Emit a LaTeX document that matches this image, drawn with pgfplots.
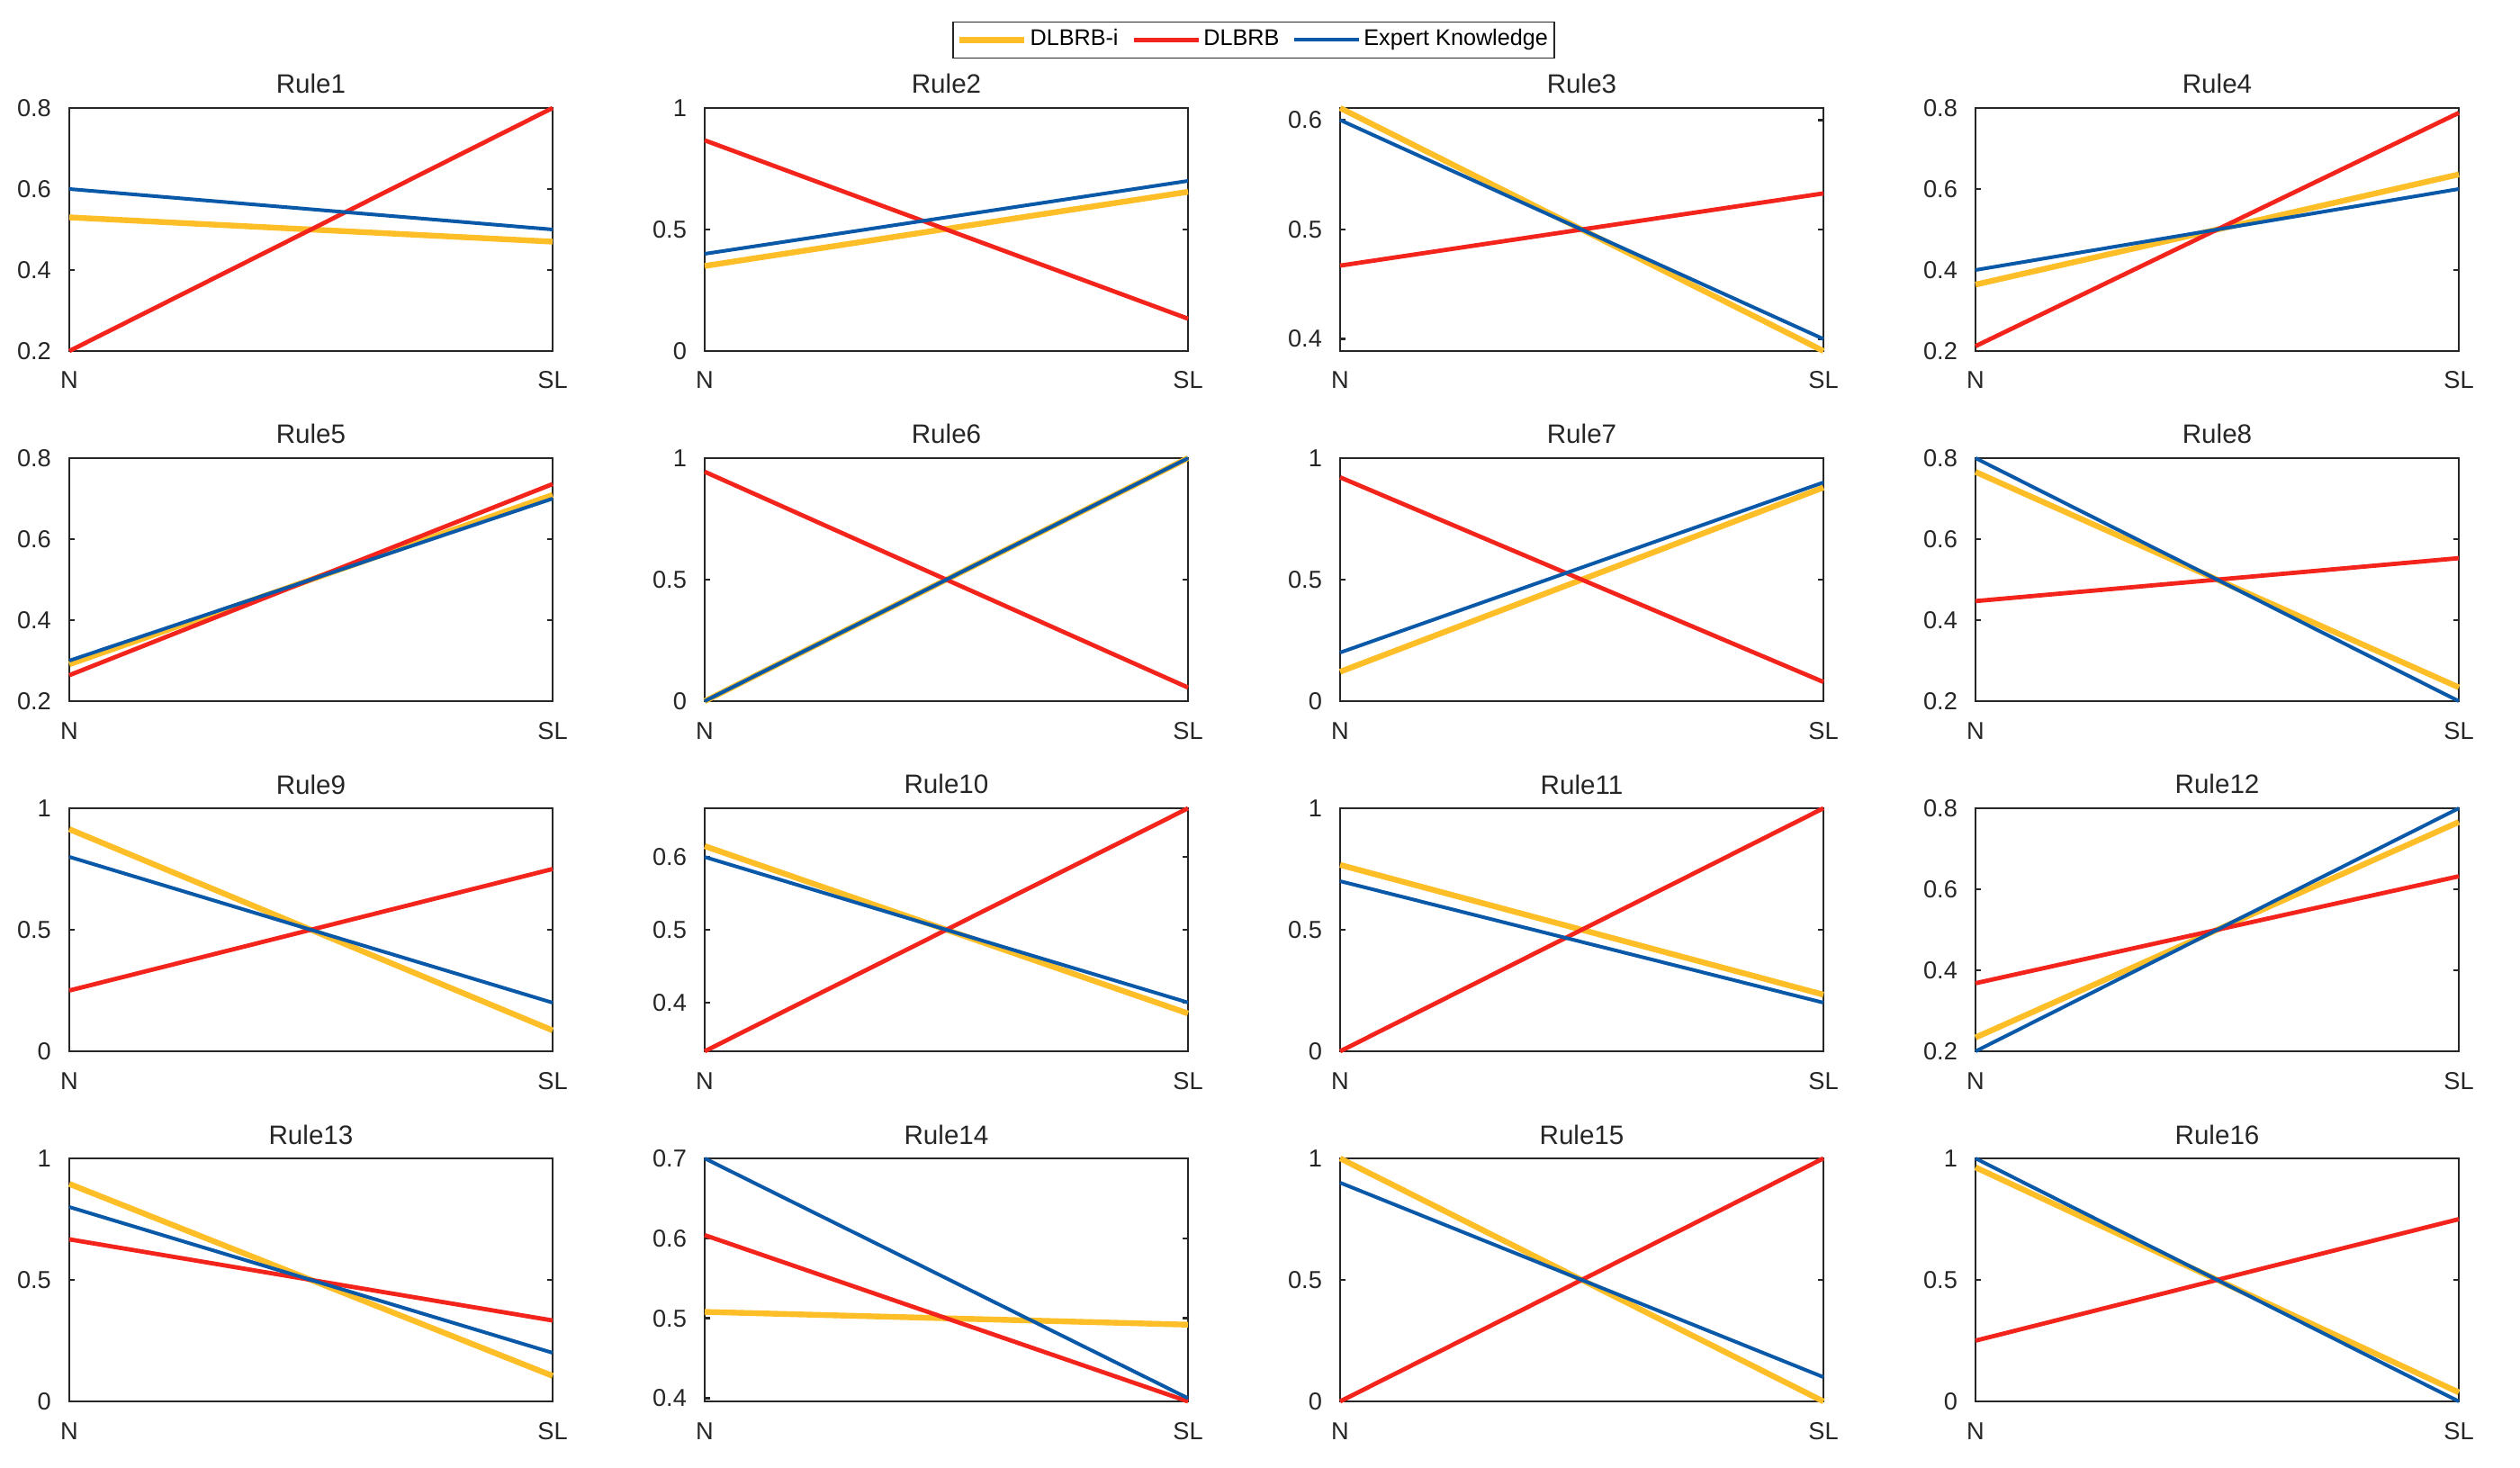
\documentclass[border=0pt]{standalone}
\usepackage{fontspec}
\setmainfont{Liberation Sans}
\usepackage{pgfplots}
\pgfplotsset{compat=1.18}
\definecolor{cY}{RGB}{253,190,40}
\definecolor{cR}{RGB}{242,36,28}
\definecolor{cB}{RGB}{10,88,168}
\definecolor{axc}{RGB}{38,38,38}

\pgfplotsset{
  rule/.style={
    anchor=south west,
    scale only axis,
    width=134.25pt, height=67.5pt,
    xmin=0, xmax=1, xtick={0,1}, xticklabels={N,SL},
    clip=false,
    axis line style={axc, line width=0.6pt},
    tick style={axc, line width=0.6pt},
    major tick length=1.4pt,
    tick align=inside,
    ticklabel style={font=\fontsize{6.8}{8}\selectfont, text=axc},
    /pgf/number format/assume math mode=true,
    xticklabel style={anchor=base, yshift=-10.5pt},
    yticklabel style={anchor=east, xshift=-1.5pt},
    title style={at={(0.5,1)}, anchor=base, yshift=-2pt, font=\fontsize{7.4}{9}\selectfont, text=axc},
  },
  ly/.style={cY, line width=1.6pt, mark=none},
  lr/.style={cR, line width=1.2pt, mark=none},
  lb/.style={cB, line width=1.0pt, mark=none},
}

% #1 x, #2 y, #3 ymin, #4 ymax, #5 yticks, #6 title, #7 yellow, #8 red, #9 blue
\newcommand{\rulepanel}[9]{%
  \begin{axis}[rule, at={(#1pt,#2pt)}, ymin=#3, ymax=#4, ytick={#5}, title={#6}]
    \addplot[ly] coordinates {#7};
    \addplot[lr] coordinates {#8};
    \addplot[lb] coordinates {#9};
  \end{axis}}

\begin{document}
\begin{tikzpicture}
\path (0,0) rectangle (700pt,407.5pt);

\begin{axis}[rule, at={(19.25pt,310pt)}, ymin=0.2, ymax=0.8, ytick={0.2,0.4,0.6,0.8}, title={Rule1},
  legend style={at={(2.4507,1.2796)}, anchor=center, legend columns=3, draw=axc, line width=0.4pt,
    font=\fontsize{6.3}{7.5}\selectfont, text=black, inner xsep=1pt, inner ysep=1pt,
    nodes={inner xsep=0.75pt, inner ysep=1pt},
    /tikz/every even column/.append style={column sep=3pt}},
  legend image code/.code={\draw[#1] (0pt,0pt) -- (18pt,0pt);}]
  \addplot[ly] coordinates {(0,0.53) (1,0.47)}; \addlegendentry{DLBRB-i}
  \addplot[lr] coordinates {(0,0.2) (1,0.8)}; \addlegendentry{DLBRB}
  \addplot[lb] coordinates {(0,0.6) (1,0.5)}; \addlegendentry{Expert Knowledge}
\end{axis}

\rulepanel{195.75}{310}{0}{1}{0,0.5,1}{Rule2}{(0,0.35) (1,0.655)}{(0,0.867) (1,0.133)}{(0,0.4) (1,0.7)}
\rulepanel{372.25}{310}{0.389}{0.611}{0.4,0.5,0.6}{Rule3}{(0,0.611) (1,0.389)}{(0,0.467) (1,0.533)}{(0,0.6) (1,0.4)}
\rulepanel{548.75}{310}{0.2}{0.8}{0.2,0.4,0.6,0.8}{Rule4}{(0,0.364) (1,0.636)}{(0,0.212) (1,0.788)}{(0,0.4) (1,0.6)}

\rulepanel{19.25}{212.75}{0.2}{0.8}{0.2,0.4,0.6,0.8}{Rule5}{(0,0.291) (1,0.709)}{(0,0.264) (1,0.736)}{(0,0.3) (1,0.7)}
\rulepanel{195.75}{212.75}{0}{1}{0,0.5,1}{Rule6}{(0,0) (1,1)}{(0,0.944) (1,0.056)}{(0,0) (1,1)}
\rulepanel{372.25}{212.75}{0}{1}{0,0.5,1}{Rule7}{(0,0.121) (1,0.879)}{(0,0.921) (1,0.079)}{(0,0.2) (1,0.9)}
\rulepanel{548.75}{212.75}{0.2}{0.8}{0.2,0.4,0.6,0.8}{Rule8}{(0,0.766) (1,0.234)}{(0,0.447) (1,0.553)}{(0,0.8) (1,0.2)}

\rulepanel{19.25}{115.5}{0}{1}{0,0.5,1}{Rule9}{(0,0.914) (1,0.086)}{(0,0.25) (1,0.75)}{(0,0.8) (1,0.2)}
\rulepanel{195.75}{115.5}{0.333}{0.667}{0.4,0.5,0.6}{Rule10}{(0,0.615) (1,0.385)}{(0,0.333) (1,0.667)}{(0,0.6) (1,0.4)}
\rulepanel{372.25}{115.5}{0}{1}{0,0.5,1}{Rule11}{(0,0.767) (1,0.233)}{(0,0) (1,1)}{(0,0.7) (1,0.2)}
\rulepanel{548.75}{115.5}{0.2}{0.8}{0.2,0.4,0.6,0.8}{Rule12}{(0,0.234) (1,0.766)}{(0,0.368) (1,0.632)}{(0,0.2) (1,0.8)}

\rulepanel{19.25}{18.25}{0}{1}{0,0.5,1}{Rule13}{(0,0.895) (1,0.105)}{(0,0.667) (1,0.333)}{(0,0.8) (1,0.2)}
\rulepanel{195.75}{18.25}{0.396}{0.7}{0.4,0.5,0.6,0.7}{Rule14}{(0,0.508) (1,0.492)}{(0,0.604) (1,0.396)}{(0,0.7) (1,0.4)}
\rulepanel{372.25}{18.25}{0}{1}{0,0.5,1}{Rule15}{(0,1) (1,0)}{(0,0) (1,1)}{(0,0.9) (1,0.1)}
\rulepanel{548.75}{18.25}{0}{1}{0,0.5,1}{Rule16}{(0,0.963) (1,0.037)}{(0,0.25) (1,0.75)}{(0,1) (1,0)}
\end{tikzpicture}
\end{document}
